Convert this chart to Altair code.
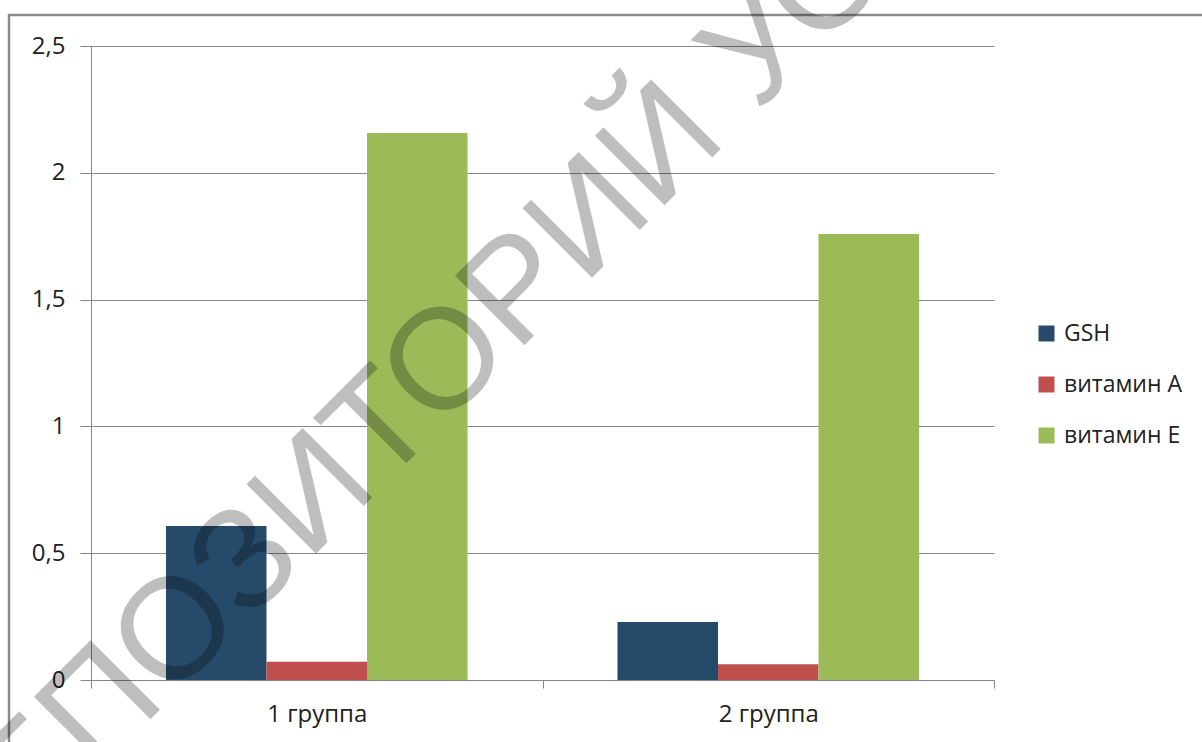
import altair as alt
import pandas as pd

groups = ["1 группа", "2 группа"]
series = ["GSH", "витамин А", "витамин Е"]
gsh = [0.607, 0.229]
vit_a = [0.072, 0.062]
vit_e = [2.157, 1.759]
colors = ["#264A69", "#C0504D", "#9BBB59"]
y_ticks = [0, 0.5, 1, 1.5, 2, 2.5]
watermark = "РЕПОЗИТОРИЙ УО ВГУ"

rows = []
for name, vals in zip(series, [gsh, vit_a, vit_e]):
    for g, v in zip(groups, vals):
        rows.append({"group": g, "series": name, "value": v})
df = pd.DataFrame(rows)

W, H = 903, 634
FONT = "Open Sans"
GRID = "#878787"

bars = alt.Chart(df).mark_bar().encode(
    x=alt.X("group:N", sort=groups,
            scale=alt.Scale(paddingInner=0, paddingOuter=0),
            axis=alt.Axis(title=None, labelAngle=0, tickBand="extent", tickSize=8,
                          tickColor=GRID, domainColor=GRID, grid=False,
                          labelFont=FONT, labelFontSize=24, labelColor="#222",
                          labelPadding=14)),
    xOffset=alt.XOffset("series:N", sort=series,
                        scale=alt.Scale(paddingInner=0, paddingOuter=0.746)),
    y=alt.Y("value:Q", scale=alt.Scale(domain=[0, 2.5], nice=False),
            axis=alt.Axis(title=None, values=y_ticks, tickSize=11, tickColor=GRID,
                          domainColor=GRID, gridColor=GRID, grid=True,
                          labelExpr="replace(format(datum.value, '~g'), '.', ',')",
                          labelFont=FONT, labelFontSize=24, labelColor="#222",
                          labelPadding=15)),
    color=alt.Color("series:N", sort=series,
                    scale=alt.Scale(domain=series, range=colors),
                    legend=alt.Legend(title=None, orient="none", legendX=944, legendY=276,
                                      symbolType="square", symbolSize=256,
                                      symbolStrokeWidth=0, labelFont=FONT,
                                      labelFontSize=23, labelColor="#222",
                                      labelOffset=6, rowPadding=27, padding=0)),
)

one = pd.DataFrame({"k": [0]})
border = alt.Chart(one).mark_rect(fill=None, stroke="#8A8A8A", strokeWidth=2.5).encode(
    x=alt.value(-82), x2=alt.value(W + 260), y=alt.value(-31), y2=alt.value(H + 120)
)

wm = alt.Chart(one).mark_text(
    angle=315, fontSize=143, font="Liberation Sans", align="left", baseline="middle",
    color="black", opacity=0.25
).encode(x=alt.value(-161), y=alt.value(833), text=alt.value(watermark))

chart = alt.layer(border, bars, wm).properties(
    width=W, height=H,
    padding={"left": 91, "top": 46, "right": 208, "bottom": 62},
    autosize=alt.AutoSizeParams(type="none"),
    background="white",
).configure_view(strokeWidth=0)

chart.save("out.html", embed_options={"renderer": "svg", "actions": False})
